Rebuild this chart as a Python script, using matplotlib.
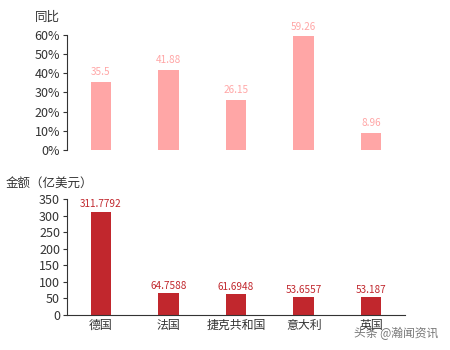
import matplotlib.pyplot as plt
from matplotlib.ticker import FuncFormatter

plt.rcParams["font.family"] = ["Noto Sans CJK SC", "DejaVu Sans"]

# 数据
countries = ["德国", "法国", "捷克共和国", "意大利", "英国"]
yoy = [35.5, 41.88, 26.15, 59.26, 8.96]
amount = [311.7792, 64.7588, 61.6948, 53.6557, 53.187]
amount_labels = ["311.7792", "64.7588", "61.6948", "53.6557", "53.187"]
yoy_ticks = [0, 10, 20, 30, 40, 50, 60]
amount_ticks = [0, 50, 100, 150, 200, 250, 300, 350]

pink = "#ffa6a6"
red = "#c1272d"
txt = "#333333"

fig = plt.figure(figsize=(4.5, 3.5), dpi=100)
ax1 = fig.add_axes([0.149, 0.571, 0.751, 0.330])
ax2 = fig.add_axes([0.149, 0.101, 0.751, 0.330])

x = range(len(countries))

# 同比
ax1.bar(x, yoy, width=0.3, color=pink)
for i, v in enumerate(yoy):
    ax1.text(i, v + 2.3, f"{v:g}", ha="center", va="bottom", fontsize=7.2, color=pink)
ax1.set_ylim(0, 60)
ax1.set_xlim(-0.5, len(countries) - 0.5)
ax1.set_yticks(yoy_ticks)
ax1.yaxis.set_major_formatter(FuncFormatter(lambda v, p: f"{v:.0f}%"))
ax1.set_xticks([])
for s in ["top", "right", "bottom"]:
    ax1.spines[s].set_visible(False)
ax1.spines["left"].set_color(txt)
ax1.tick_params(axis="y", labelsize=9, colors=txt, length=3, pad=2)
fig.text(0.078, 0.952, "同比", fontsize=9, color=txt, va="center")

# 金额
ax2.bar(x, amount, width=0.3, color=red)
for i, v in enumerate(amount):
    ax2.text(i, v + 7, amount_labels[i], ha="center", va="bottom", fontsize=7.2, color=red)
ax2.set_ylim(0, 350)
ax2.set_xlim(-0.5, len(countries) - 0.5)
ax2.set_yticks(amount_ticks)
ax2.set_xticks(list(x))
ax2.set_xticklabels(countries)
for s in ["top", "right"]:
    ax2.spines[s].set_visible(False)
ax2.spines["left"].set_color(txt)
ax2.spines["bottom"].set_color(txt)
ax2.tick_params(axis="y", labelsize=9, colors=txt, length=3, pad=2)
ax2.tick_params(axis="x", labelsize=8.6, colors=txt, length=0, pad=3)
fig.text(0.012, 0.477, "金额（亿美元）", fontsize=9, color=txt, va="center")

# 水印
fig.text(0.975, 0.047, "头条 @瀚闻资讯", fontsize=8.5, color="#555555", alpha=0.8,
         ha="right", va="center")

fig.savefig("out.png", dpi=100)
